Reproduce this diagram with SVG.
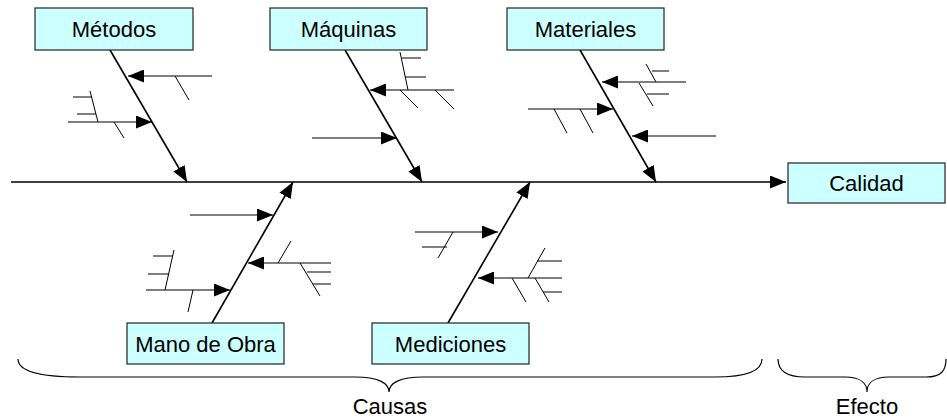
<svg xmlns="http://www.w3.org/2000/svg" width="947" height="418" viewBox="0 0 947 418">
<style>
.box{fill:#CCFFFF;stroke:#222;stroke-width:1.2}
.lbl{font-family:"Liberation Sans",Arial,sans-serif;font-size:22px;fill:#000;text-anchor:middle}
.bone{stroke:#000;stroke-width:1.6;fill:none}
.sub{stroke:#000;stroke-width:1.2;fill:none}
.tick{stroke:#000;stroke-width:1;fill:none}
.brace{stroke:#000;stroke-width:1.2;fill:none}
</style>
<defs>
<marker id="ah" viewBox="0 0 16 13" refX="16" refY="6.5" markerWidth="16" markerHeight="13" markerUnits="userSpaceOnUse" orient="auto">
<path d="M0,0 L16,6.5 L0,13 Z" fill="#000"/>
</marker>
</defs>
<rect width="947" height="418" fill="#fff"/>
<g id="connectors">
<line class="bone" x1="11" y1="182" x2="786" y2="182" marker-end="url(#ah)"/>
<!-- Metodos -->
<line class="bone" x1="110" y1="50" x2="187" y2="182" marker-end="url(#ah)"/>
<line class="sub" x1="212" y1="76" x2="128" y2="76" marker-end="url(#ah)"/>
<line class="tick" x1="175" y1="76" x2="189" y2="100"/>
<line class="sub" x1="68" y1="122" x2="152" y2="122" marker-end="url(#ah)"/>
<line class="tick" x1="114" y1="122" x2="124" y2="138"/>
<line class="tick" x1="90" y1="91" x2="98" y2="122"/>
<line class="tick" x1="73" y1="97" x2="92" y2="97"/>
<line class="tick" x1="77" y1="114" x2="96" y2="114"/>
<!-- Maquinas -->
<line class="bone" x1="345" y1="50" x2="422" y2="182" marker-end="url(#ah)"/>
<line class="sub" x1="454" y1="90" x2="370" y2="90" marker-end="url(#ah)"/>
<line class="tick" x1="400" y1="52" x2="408" y2="90"/>
<line class="tick" x1="402" y1="58" x2="421" y2="58"/>
<line class="tick" x1="405" y1="77" x2="426" y2="77"/>
<line class="tick" x1="400" y1="90" x2="418" y2="108"/>
<line class="tick" x1="435" y1="90" x2="454" y2="109"/>
<line class="sub" x1="312" y1="138" x2="397" y2="138" marker-end="url(#ah)"/>
<!-- Materiales -->
<line class="bone" x1="580" y1="50" x2="656" y2="182" marker-end="url(#ah)"/>
<line class="sub" x1="686" y1="82" x2="602" y2="82" marker-end="url(#ah)"/>
<line class="tick" x1="646" y1="64" x2="656" y2="82"/>
<line class="tick" x1="639" y1="83" x2="653" y2="106"/>
<line class="tick" x1="652" y1="71" x2="669" y2="71"/>
<line class="tick" x1="647" y1="94" x2="669" y2="94"/>
<line class="sub" x1="528" y1="109" x2="613" y2="109" marker-end="url(#ah)"/>
<line class="tick" x1="554" y1="109" x2="567" y2="133"/>
<line class="tick" x1="580" y1="109" x2="593" y2="133"/>
<line class="sub" x1="716" y1="136" x2="632" y2="136" marker-end="url(#ah)"/>
<!-- Mano de Obra -->
<line class="bone" x1="212" y1="323" x2="293" y2="182" marker-end="url(#ah)"/>
<line class="sub" x1="190" y1="215" x2="273" y2="215" marker-end="url(#ah)"/>
<line class="sub" x1="331" y1="263" x2="248" y2="263" marker-end="url(#ah)"/>
<line class="tick" x1="278" y1="263" x2="291" y2="241"/>
<line class="tick" x1="300" y1="263" x2="320" y2="296"/>
<line class="tick" x1="307" y1="272" x2="331" y2="272"/>
<line class="tick" x1="313" y1="284" x2="331" y2="284"/>
<line class="sub" x1="146" y1="290" x2="230" y2="290" marker-end="url(#ah)"/>
<line class="tick" x1="174" y1="250" x2="165" y2="290"/>
<line class="tick" x1="153" y1="256" x2="173" y2="256"/>
<line class="tick" x1="148" y1="274" x2="169" y2="274"/>
<line class="tick" x1="193" y1="290" x2="188" y2="312"/>
<!-- Mediciones -->
<line class="bone" x1="448" y1="323" x2="530" y2="182" marker-end="url(#ah)"/>
<line class="sub" x1="415" y1="232" x2="498" y2="232" marker-end="url(#ah)"/>
<line class="tick" x1="453" y1="232" x2="438" y2="258"/>
<line class="tick" x1="422" y1="247" x2="447" y2="247"/>
<line class="sub" x1="562" y1="278" x2="478" y2="278" marker-end="url(#ah)"/>
<line class="tick" x1="528" y1="278" x2="545" y2="248"/>
<line class="tick" x1="537" y1="261" x2="562" y2="261"/>
<line class="tick" x1="512" y1="278" x2="526" y2="302"/>
<line class="tick" x1="535" y1="278" x2="549" y2="302"/>
<line class="tick" x1="543" y1="292" x2="562" y2="292"/>
</g>
<g id="metodos"><rect class="box" x="35" y="8" width="158" height="42"/><text class="lbl" x="114" y="37">Métodos</text></g>
<g id="maquinas"><rect class="box" x="270" y="8" width="157" height="42"/><text class="lbl" x="348.5" y="37">Máquinas</text></g>
<g id="materiales"><rect class="box" x="507" y="8" width="157" height="42"/><text class="lbl" x="585.5" y="37">Materiales</text></g>
<g id="calidad"><rect class="box" x="788" y="163" width="157" height="40"/><text class="lbl" x="866.5" y="191">Calidad</text></g>
<g id="manodeobra"><rect class="box" x="127" y="323" width="157" height="41"/><text class="lbl" x="205.5" y="351.5">Mano de Obra</text></g>
<g id="mediciones"><rect class="box" x="372" y="323" width="157" height="41"/><text class="lbl" x="450.5" y="351.5">Mediciones</text></g>
<g id="causas">
<path class="brace" d="M18,359 C18,371 40,377 80,377 L355,377 C378,377 389,383 389,392 C389,383 400,377 423,377 L715,377 C748,377 762,371 762,359"/>
<text class="lbl" x="390" y="414">Causas</text>
</g>
<g id="efecto">
<path class="brace" d="M778,359 C778,371 786,377 805,377 L845,377 C860,377 867,383 867,392 C867,383 874,377 889,377 L926,377 C941,377 946,371 946,359"/>
<text class="lbl" x="867" y="414">Efecto</text>
</g>
</svg>
